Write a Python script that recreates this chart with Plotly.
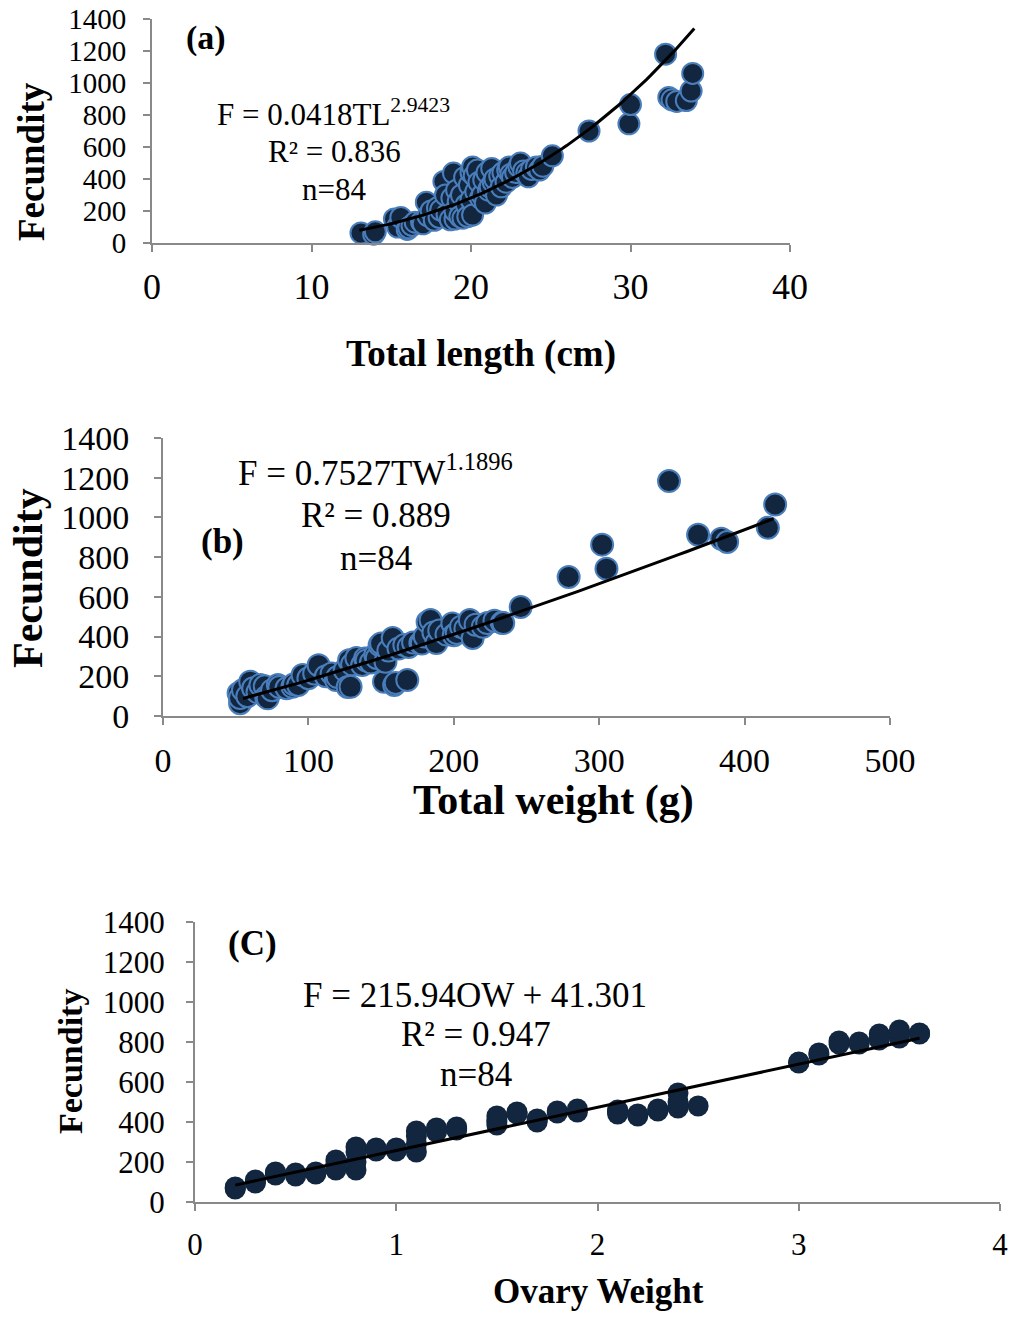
import plotly.graph_objects as go

# ---------------- data ----------------
# Panel (a): total length (cm) vs fecundity
tl_a = [13.1, 13.9, 14.0, 15.2, 15.4, 15.6, 16.0, 16.1, 16.3, 16.5, 16.9, 17.0, 17.2, 17.3,
        17.5, 17.7, 17.9, 18.0, 18.1, 18.3, 18.4, 18.5, 18.7, 18.8, 18.9, 19.0, 19.0, 19.1,
        19.2, 19.3, 19.4, 19.5, 19.6, 19.7, 19.8, 19.9, 20.0, 20.0, 20.1, 20.1, 20.2, 20.3,
        20.4, 20.5, 20.6, 20.7, 20.8, 20.9, 21.0, 21.1, 21.2, 21.3, 21.4, 21.5, 21.6, 21.8,
        21.9, 22.0, 22.2, 22.3, 22.4, 22.5, 22.6, 22.8, 23.0, 23.1, 23.3, 23.5, 23.6, 23.8,
        24.1, 24.3, 24.5, 25.1, 27.4, 29.9, 30.0, 32.2, 32.4, 32.6, 32.9, 33.5, 33.8, 33.9]
fec_a = [63, 55, 70, 150, 100, 160, 85, 95, 110, 130, 132, 120, 255, 170,
         200, 142, 220, 160, 206, 385, 300, 180, 145, 281, 437, 150, 200, 330,
         260, 165, 300, 155, 410, 240, 165, 362, 270, 440, 475, 175, 420, 320,
         456, 380, 281, 300, 394, 250, 440, 330, 350, 466, 380, 400, 300, 420,
         351, 440, 380, 456, 475, 430, 410, 440, 477, 500, 450, 437, 414, 460,
         475, 456, 480, 545, 700, 745, 865, 1180, 910, 895, 885, 890, 950, 1060]

# Panel (b): total weight (g) vs fecundity
tw_b = [52, 53, 53, 55, 58, 60, 62, 65, 67, 70, 71, 72, 75, 79, 80, 85, 89, 90, 93, 96,
        100, 104, 107, 112, 116, 119, 120, 125, 127, 128, 129, 130, 133, 137, 139, 140,
        143, 146, 147, 149, 150, 152, 153, 155, 158, 159, 160, 162, 166, 168, 169, 172,
        177, 178, 180, 182, 184, 186, 188, 190, 195, 199, 200, 202, 205, 208, 211, 213,
        215, 220, 223, 228, 233, 234, 246, 279, 302, 305, 348, 368, 384, 388, 416, 421]
fec_b = [114, 64, 91, 131, 100, 173, 140, 120, 156, 150, 96, 89, 130, 156, 146, 140, 147, 160, 156, 206,
         190, 214, 256, 200, 214, 181, 196, 230, 146, 281, 147, 260, 292, 257, 290, 280,
         270, 307, 292, 357, 365, 173, 273, 330, 393, 156, 166, 340, 357, 181, 348, 370,
         367, 365, 400, 474, 483, 420, 367, 430, 410, 466, 407, 418, 450, 440, 483, 393,
         460, 450, 468, 480, 469, 468, 549, 700, 863, 742, 1183, 913, 893, 876, 948, 1065]

# Panel (c): ovary weight vs fecundity
ow_c = [0.2, 0.2, 0.2, 0.3, 0.3, 0.3, 0.4, 0.4, 0.4, 0.5, 0.5, 0.5, 0.6, 0.6, 0.6,
        0.7, 0.7, 0.7, 0.7, 0.8, 0.8, 0.8, 0.8, 0.9, 0.9, 0.9, 1.0, 1.0, 1.0,
        1.1, 1.1, 1.1, 1.1, 1.2, 1.2, 1.2, 1.3, 1.3, 1.3, 1.5, 1.5, 1.5, 1.5,
        1.6, 1.6, 1.6, 1.7, 1.7, 1.7, 1.8, 1.8, 1.9, 1.9, 2.1, 2.1, 2.1, 2.1,
        2.2, 2.2, 2.3, 2.3, 2.3, 2.4, 2.4, 2.4, 2.5, 3.0, 3.0, 3.0, 3.1, 3.1,
        3.2, 3.2, 3.3, 3.3, 3.4, 3.4, 3.4, 3.5, 3.5, 3.5, 3.6, 3.6, 3.6]
fec_c = [70, 65, 75, 100, 110, 95, 135, 145, 150, 140, 130, 145, 140, 150, 145,
         160, 190, 210, 175, 160, 200, 250, 275, 255, 270, 265, 255, 270, 262,
         250, 330, 355, 290, 350, 370, 360, 360, 375, 368, 385, 410, 430, 400,
         440, 450, 445, 400, 415, 408, 445, 455, 450, 465, 450, 460, 440, 455,
         430, 440, 455, 465, 460, 470, 545, 500, 480, 695, 700, 698, 735, 745,
         790, 805, 790, 800, 810, 840, 825, 820, 860, 845, 840, 845, 842]

# fitted models shown on the chart
A_COEF, A_EXP = 0.0418, 2.9423
B_COEF, B_EXP = 0.7527, 1.1896
C_SLOPE, C_INT = 215.94, 41.301
a_line_x = [13 + i * 0.25 for i in range(85)]            # 13 .. 34
b_line_x = [55 + i * 5 for i in range(74)]               # 55 .. 420
c_line_x = [0.2, 3.6]

y_ticks = [0, 200, 400, 600, 800, 1000, 1200, 1400]

# ---------------- figure ----------------
FONT = "Liberation Serif, Times New Roman, serif"
W, H = 1011, 1320
NAVY = "#12263f"
EDGE = "#4a7ebb"
AXC = "#898989"

fig = go.Figure()

def px_x(p):
    return p / W

def px_y(p):
    return 1 - p / H

# panel (a)
fig.add_trace(go.Scatter(x=tl_a, y=fec_a, mode="markers", xaxis="x", yaxis="y",
                         marker=dict(size=21, color=NAVY, line=dict(color=EDGE, width=2)),
                         cliponaxis=False, showlegend=False))
fig.add_trace(go.Scatter(x=a_line_x, y=[A_COEF * v ** A_EXP for v in a_line_x], mode="lines",
                         xaxis="x", yaxis="y", line=dict(color="black", width=3),
                         cliponaxis=False, showlegend=False))
# panel (b)
fig.add_trace(go.Scatter(x=tw_b, y=fec_b, mode="markers", xaxis="x2", yaxis="y2",
                         marker=dict(size=22, color=NAVY, line=dict(color=EDGE, width=2)),
                         cliponaxis=False, showlegend=False))
fig.add_trace(go.Scatter(x=b_line_x, y=[B_COEF * v ** B_EXP for v in b_line_x], mode="lines",
                         xaxis="x2", yaxis="y2", line=dict(color="black", width=3),
                         cliponaxis=False, showlegend=False))
# panel (c)
fig.add_trace(go.Scatter(x=ow_c, y=fec_c, mode="markers", xaxis="x3", yaxis="y3",
                         marker=dict(size=21, color=NAVY, line=dict(width=0)),
                         cliponaxis=False, showlegend=False))
fig.add_trace(go.Scatter(x=c_line_x, y=[C_SLOPE * v + C_INT for v in c_line_x], mode="lines",
                         xaxis="x3", yaxis="y3", line=dict(color="black", width=3),
                         cliponaxis=False, showlegend=False))

def xax(dom, rng, dtick, fsize, standoff, anchor):
    return dict(domain=dom, range=rng, dtick=dtick, tick0=0, anchor=anchor,
                automargin=False, ticklabeloverflow="allow",
                showline=True, linecolor=AXC, linewidth=2, mirror=False,
                ticks="outside", ticklen=7, tickwidth=2, tickcolor=AXC,
                showgrid=False, zeroline=False, fixedrange=True,
                tickfont=dict(family=FONT, size=fsize, color="black"),
                ticklabelstandoff=standoff)

def yax(dom, fsize, standoff, anchor):
    return dict(domain=dom, range=[0, 1400], tickvals=y_ticks, anchor=anchor,
                automargin=False, ticklabeloverflow="allow",
                showline=True, linecolor=AXC, linewidth=2,
                ticks="outside", ticklen=7, tickwidth=2, tickcolor=AXC,
                showgrid=False, zeroline=False, fixedrange=True,
                tickfont=dict(family=FONT, size=fsize, color="black"),
                ticklabelstandoff=standoff)

fig.update_layout(
    width=W, height=H, margin=dict(l=0, r=0, t=0, b=0, pad=0, autoexpand=False),
    paper_bgcolor="white", plot_bgcolor="white",
    xaxis=xax([px_x(152), px_x(790)], [0, 40], 10, 36, 4, "y"),
    yaxis=yax([px_y(243), px_y(19)], 29, 11, "x"),
    xaxis2=xax([px_x(163), px_x(890)], [0, 500], 100, 34, 6, "y2"),
    yaxis2=yax([px_y(716), px_y(438)], 34, 18, "x2"),
    xaxis3=xax([px_x(195), px_x(1000)], [0, 4], 1, 31, 7, "y3"),
    yaxis3=yax([px_y(1202), px_y(922)], 31, 15, "x3"),
)

def ann(text, x, y, size, bold=False, angle=0):
    if bold:
        text = "<b>" + text + "</b>"
    fig.add_annotation(text=text, x=px_x(x), y=px_y(y), xref="paper", yref="paper",
                       showarrow=False, xanchor="center", yanchor="middle", textangle=angle,
                       font=dict(family=FONT, size=size, color="black"))

# panel (a) texts
ann("(a)", 206, 38, 34, bold=True)
ann("F = 0.0418TL<sup>2.9423</sup>", 333, 113, 31)
ann("R² = 0.836", 334, 152, 31)
ann("n=84", 334, 189, 31)
ann("Total length (cm)", 481, 354, 37, bold=True)
ann("Fecundity", 32, 162, 37, bold=True, angle=-90)

# panel (b) texts
ann("(b)", 222, 541, 35, bold=True)
ann("F = 0.7527TW<sup>1.1896</sup>", 375, 470, 35)
ann("R² = 0.889", 376, 515, 35)
ann("n=84", 376, 558, 35)
ann("Total weight (g)", 553, 800, 42, bold=True)
ann("Fecundity", 28, 578, 42, bold=True, angle=-90)

# panel (c) texts
ann("(C)", 252, 943, 35, bold=True)
ann("F = 215.94OW + 41.301", 475, 995, 35)
ann("R² = 0.947", 476, 1034, 35)
ann("n=84", 476, 1074, 35)
ann("Ovary Weight", 598, 1291, 35, bold=True)
ann("Fecundity", 70, 1062, 34, bold=True, angle=-90)

# remove the default page margin so the figure fills the window exactly
PAGE_JS = "document.body.style.margin='0';document.body.style.overflow='hidden';"

fig.write_html("out.html", post_script=PAGE_JS,
               config={"displayModeBar": False, "staticPlot": True})
